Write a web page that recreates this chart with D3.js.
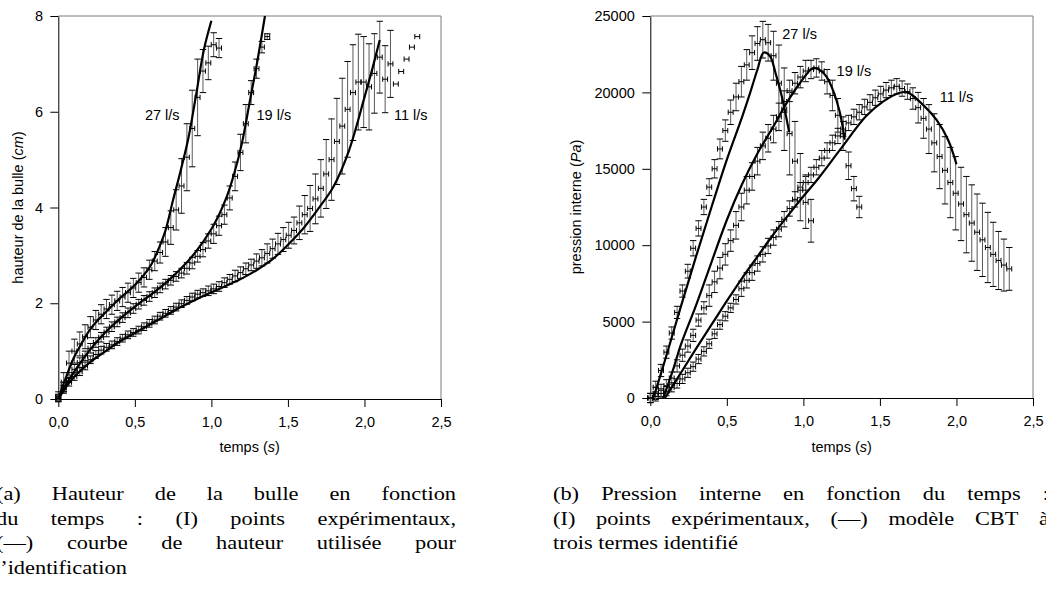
<!DOCTYPE html>
<html><head><meta charset="utf-8">
<script src="https://cdn.jsdelivr.net/npm/d3@7"></script>
<style>
body{margin:0;background:#fff}
svg{display:block}
.ax text{font-family:"Liberation Sans",Arial,sans-serif;font-size:14.5px;fill:#000}
.ttl{font-family:"Liberation Sans",Arial,sans-serif;font-size:14.5px;fill:#000}
.cap{font-family:"Liberation Serif","Times New Roman",serif;font-size:19.5px;fill:#000}
</style></head>
<body>
<svg id="c" width="1046" height="590"></svg>
<script>
// ---------- données ----------
const temps = [0,0.035,0.07,0.105,0.14,0.175,0.21,0.245,0.28,0.315,0.35,0.385,0.42,0.455,0.49,0.525,0.56,0.595,0.63,0.665,0.7,0.735,0.77,0.805,0.84,0.875,0.91,0.945,0.98,1.015,1.05,1.085,1.12,1.155,1.19,1.225,1.26,1.295,1.33,1.365,1.4,1.435,1.47,1.505,1.54,1.575,1.61,1.645,1.68,1.715,1.75,1.785,1.82,1.855,1.89,1.925,1.96,1.995,2.03,2.065,2.1,2.135,2.17,2.205,2.24,2.275,2.31,2.345];
const erreurTemps = 0.016;
const debits = ["27 l/s","19 l/s","11 l/s"];

const hauteur27 = [0.05,0.35,0.75,1.0,1.15,1.3,1.5,1.65,1.77,1.88,1.97,2.05,2.13,2.22,2.32,2.43,2.54,2.7,2.88,3.06,3.28,3.58,3.95,4.45,5.05,5.65,6.3,6.85,7.02,7.4,7.33];
const erreurHauteur27 = [0.1,0.2,0.25,0.25,0.25,0.25,0.22,0.2,0.2,0.2,0.2,0.2,0.2,0.2,0.2,0.2,0.2,0.2,0.2,0.22,0.3,0.35,0.42,0.57,0.7,0.8,0.8,0.45,0.35,0.25,0.2];
const hauteur19 = [0.02,0.25,0.45,0.62,0.76,0.9,1.06,1.18,1.29,1.4,1.51,1.61,1.7,1.8,1.89,1.98,2.06,2.14,2.22,2.32,2.4,2.48,2.56,2.63,2.73,2.84,2.98,3.12,3.3,3.45,3.62,3.85,4.2,4.65,5.15,5.75,6.4,6.9,7.35,7.57];
const erreurHauteur19 = [0.06,0.1,0.1,0.1,0.1,0.1,0.1,0.1,0.1,0.1,0.1,0.1,0.1,0.1,0.1,0.1,0.1,0.1,0.1,0.1,0.1,0.1,0.1,0.1,0.12,0.12,0.12,0.15,0.15,0.2,0.2,0.2,0.25,0.3,0.38,0.4,0.25,0.2,0.12,0.06];
const hauteur11 = [0.02,0.2,0.35,0.47,0.57,0.69,0.82,0.93,1.02,1.08,1.13,1.2,1.27,1.34,1.39,1.44,1.51,1.58,1.65,1.73,1.79,1.85,1.92,1.99,2.06,2.13,2.19,2.22,2.26,2.3,2.35,2.43,2.5,2.57,2.64,2.72,2.8,2.88,2.95,3.04,3.14,3.24,3.33,3.42,3.52,3.68,3.85,3.98,4.18,4.4,4.7,5.0,5.38,5.7,6.05,6.4,6.62,6.62,6.52,6.8,7.14,6.68,7.0,6.58,6.84,7.1,7.35,7.57];
const erreurHauteur11 = [0.08,0.08,0.08,0.08,0.08,0.08,0.08,0.08,0.08,0.08,0.08,0.08,0.08,0.08,0.08,0.08,0.08,0.08,0.08,0.08,0.08,0.08,0.08,0.08,0.08,0.08,0.08,0.08,0.1,0.1,0.1,0.1,0.1,0.12,0.12,0.12,0.12,0.15,0.17,0.2,0.2,0.22,0.25,0.27,0.28,0.35,0.4,0.48,0.52,0.6,0.72,0.85,0.9,1.0,1.0,1.0,1.0,0.95,0.9,0.83,0.75,0.7,0.7,0,0,0,0,0];

const pression27 = [0,700,1800,3000,4250,5600,7000,8300,9800,11100,12500,13800,15000,16300,17500,18700,19700,20700,21800,22600,23200,23450,23250,22400,20600,18900,17300,15500,13800,12800,11600];
const erreurPression27 = [300,400,400,400,400,400,400,450,500,500,500,550,600,650,700,800,900,1000,1000,1100,1100,1200,1200,1600,2500,2700,2700,2600,2200,1700,1400];
const pression19 = [0,300,500,800,1300,2100,2800,3400,4100,5100,5900,6700,7600,8500,9400,10300,11300,12500,13600,14500,15500,16500,17000,17600,18400,19400,20100,20600,21000,21400,21500,21600,21400,20700,19800,18500,17300,15200,13700,12500];
const erreurPression19 = [300,400,400,400,400,400,400,400,400,400,400,700,700,700,700,700,900,900,900,900,900,900,900,900,900,700,700,700,700,700,600,600,600,800,1000,1100,1100,900,800,700];
const pression11 = [0,100,300,450,700,950,1250,1650,2050,2550,3050,3550,4200,4800,5350,5900,6450,7150,7700,8200,8800,9400,9950,10500,11050,11700,12400,13000,13600,14100,14600,15100,15700,16200,16700,17150,17600,18000,18400,18700,19050,19350,19650,19900,20150,20300,20400,20250,20050,19600,19000,18300,17600,16700,15800,14900,14100,13400,12700,12000,11450,10850,10350,9850,9400,9000,8700,8450];
const erreurPression11 = [300,300,300,300,300,300,300,300,300,300,300,300,300,300,300,300,300,500,500,500,500,500,500,500,500,500,500,500,500,500,500,500,500,500,500,500,500,500,500,500,500,500,500,500,500,500,500,500,500,700,1000,1300,1600,1900,2100,2200,2300,2400,2400,2500,2500,2500,2400,2300,2100,1900,1700,1400];

// courbes modèles
const modeleTempsH27 = [0,0.05,0.1,0.15,0.2,0.25,0.3,0.4,0.5,0.6,0.65,0.7,0.75,0.8,0.85,0.9,0.95,1.0];
const modeleHauteur27 = [0,0.45,0.85,1.15,1.42,1.62,1.78,2.1,2.38,2.77,3.1,3.52,4.16,4.78,5.45,6.35,7.28,7.9];
const modeleTempsH19 = [0,0.05,0.1,0.2,0.3,0.4,0.5,0.6,0.7,0.8,0.9,1.0,1.05,1.1,1.15,1.2,1.25,1.3,1.35];
const modeleHauteur19 = [0,0.3,0.55,1.0,1.37,1.67,1.93,2.17,2.42,2.72,3.08,3.55,3.85,4.22,4.72,5.35,6.2,7.05,8.0];
const modeleTempsH11 = [0,0.05,0.1,0.2,0.3,0.4,0.5,0.6,0.7,0.8,0.9,1.0,1.1,1.2,1.3,1.4,1.5,1.6,1.7,1.8,1.9,2.0,2.05,2.1];
const modeleHauteur11 = [0,0.25,0.45,0.75,0.98,1.2,1.38,1.56,1.74,1.92,2.08,2.23,2.37,2.52,2.7,2.92,3.22,3.56,3.98,4.45,5.2,6.3,6.88,7.5];

const modeleTempsP27 = [0.02,0.1,0.2,0.3,0.4,0.5,0.6,0.65,0.7,0.74,0.78,0.82,0.86,0.907];
const modelePression27 = [0,2600,6000,9300,12500,15600,18400,19900,21500,22600,22400,21200,19700,17400];
const modeleTempsP19 = [0.085,0.15,0.2,0.3,0.4,0.5,0.6,0.7,0.8,0.89,0.977,1.064,1.11,1.153,1.195,1.238,1.27];
const modelePression19 = [0,1900,3500,6100,8900,11650,14000,16000,17700,19300,20600,21600,21450,21000,20100,18700,16900];
const modeleTempsP11 = [0.096,0.2,0.3,0.4,0.5,0.6,0.7,0.8,0.9,1.0,1.1,1.24,1.41,1.52,1.63,1.68,1.78,1.87,1.945,2.0];
const modelePression11 = [0,1650,3250,4800,6350,7850,9250,10650,11950,13200,14400,16250,18450,19400,19980,20000,19200,18200,16900,15300];

const ticksTemps = [0,0.5,1,1.5,2,2.5];
const ticksHauteur = [0,2,4,6,8];
const ticksPression = [0,5000,10000,15000,20000,25000];

const legendeA = ["(a) Hauteur de la bulle en fonction","du temps : (I) points expérimentaux,","(—) courbe de hauteur utilisée pour","l’identification"];
const legendeB = ["(b) Pression interne en fonction du temps :","(I) points expérimentaux, (—) modèle CBT à","trois termes identifié"];

// ---------- dessin ----------
const svg = d3.select("#c");
const fmtT = d => d3.format(".1f")(d).replace(".", ",");

function panneau(cfg){
  const g = svg.append("g");
  const x = d3.scaleLinear().domain([0,2.5]).range([cfg.x0,cfg.x1]);
  const y = d3.scaleLinear().domain([0,cfg.ymax]).range([cfg.yb,cfg.yt]);
  // cadre
  g.append("line").attr("x1",cfg.x0).attr("x2",cfg.x1).attr("y1",cfg.yt).attr("y2",cfg.yt).attr("stroke","#7a7a7a");
  g.append("line").attr("x1",cfg.x1).attr("x2",cfg.x1).attr("y1",cfg.yt).attr("y2",cfg.yb).attr("stroke","#7a7a7a");
  // axes
  const ab = g.append("g").attr("class","ax").attr("transform",`translate(0,${cfg.yb})`)
    .call(d3.axisBottom(x).tickValues(ticksTemps).tickFormat(fmtT).tickSize(8).tickSizeOuter(0).tickPadding(10));
  const al = g.append("g").attr("class","ax").attr("transform",`translate(${cfg.x0},0)`)
    .call(d3.axisLeft(y).tickValues(cfg.ticks).tickFormat(d3.format("d")).tickSize(8).tickSizeOuter(0).tickPadding(cfg.padY));
  g.selectAll(".ax path, .ax line").attr("stroke","#000");
  // titres
  const tx = g.append("text").attr("class","ttl").attr("x",(cfg.x0+cfg.x1)/2).attr("y",452).attr("text-anchor","middle");
  tx.append("tspan").text("temps (");
  tx.append("tspan").attr("font-style","italic").text("s");
  tx.append("tspan").text(")");
  const ty = g.append("text").attr("class","ttl").attr("text-anchor","middle")
    .attr("transform",`translate(${cfg.titreX},${(cfg.yt+cfg.yb)/2}) rotate(-90)`);
  ty.append("tspan").text(cfg.titre + " (");
  ty.append("tspan").attr("font-style","italic").text(cfg.unite);
  ty.append("tspan").text(")");

  // barres d'erreur
  const hx = 3.2, hy = 2.6;
  cfg.series.forEach(s => {
    const pts = s.valeurs.map((v,i)=>({t:temps[i], v:v, e:s.erreurs[i]}));
    const sg = g.append("g");
    const pe = pts.filter(d=>d.e>0);
    sg.selectAll(".st").data(pe).join("line").attr("class","st")
      .attr("x1",d=>x(d.t)).attr("x2",d=>x(d.t)).attr("y1",d=>y(d.v-d.e)).attr("y2",d=>y(d.v+d.e))
      .attr("stroke","#5a5a5a").attr("stroke-width",1);
    ["-","+"].forEach(sgn=>{
      sg.selectAll(".cp"+(sgn==="+"?"h":"b")).data(pe).join("line").attr("class","cp"+(sgn==="+"?"h":"b"))
        .attr("x1",d=>x(d.t)-hx).attr("x2",d=>x(d.t)+hx)
        .attr("y1",d=>y(sgn==="+"?d.v+d.e:d.v-d.e)).attr("y2",d=>y(sgn==="+"?d.v+d.e:d.v-d.e))
        .attr("stroke","#000").attr("stroke-width",1);
    });
    sg.selectAll(".hz").data(pts).join("line").attr("class","hz")
      .attr("x1",d=>x(d.t-erreurTemps)).attr("x2",d=>x(d.t+erreurTemps)).attr("y1",d=>y(d.v)).attr("y2",d=>y(d.v))
      .attr("stroke","#000").attr("stroke-width",1);
    [-1,1].forEach(k=>{
      sg.selectAll(".hc"+(k>0?"d":"g")).data(pts).join("line").attr("class","hc"+(k>0?"d":"g"))
        .attr("x1",d=>x(d.t+k*erreurTemps)).attr("x2",d=>x(d.t+k*erreurTemps))
        .attr("y1",d=>y(d.v)-hy).attr("y2",d=>y(d.v)+hy)
        .attr("stroke","#000").attr("stroke-width",1);
    });
  });
  // modèles
  const ln = d3.line().x(d=>x(d[0])).y(d=>y(d[1])).curve(d3.curveCatmullRom.alpha(0.5));
  cfg.modeles.forEach(m=>{
    g.append("path").attr("d", ln(d3.zip(m[0],m[1]))).attr("fill","none").attr("stroke","#000").attr("stroke-width",2.2);
  });
  // étiquettes
  cfg.etiquettes.forEach((e,i)=>{
    g.append("text").attr("class","ttl").attr("x",x(e[0])).attr("y",y(e[1])).text(debits[i]);
  });
}

panneau({x0:58.3,x1:441,yb:399,yt:16,ymax:8,ticks:ticksHauteur,padY:7.3,titreX:23,
  titre:"hauteur de la bulle",unite:"cm",
  series:[{valeurs:hauteur27,erreurs:erreurHauteur27},{valeurs:hauteur19,erreurs:erreurHauteur19},{valeurs:hauteur11,erreurs:erreurHauteur11}],
  modeles:[[modeleTempsH27,modeleHauteur27],[modeleTempsH19,modeleHauteur19],[modeleTempsH11,modeleHauteur11]],
  etiquettes:[[0.566,5.83],[1.295,5.83],[2.193,5.83]]});

panneau({x0:650.3,x1:1033,yb:398,yt:16,ymax:25000,ticks:ticksPression,padY:7.5,titreX:581,
  titre:"pression interne",unite:"Pa",
  series:[{valeurs:pression27,erreurs:erreurPression27},{valeurs:pression19,erreurs:erreurPression19},{valeurs:pression11,erreurs:erreurPression11}],
  modeles:[[modeleTempsP27,modelePression27],[modeleTempsP19,modelePression19],[modeleTempsP11,modelePression11]],
  etiquettes:[[0.862,23475],[1.217,21073],[1.891,19352]]});

// ---------- légendes ----------
function mesure(t){ const n = svg.append("text").attr("class","cap").text(t); const w = n.node().getComputedTextLength(); n.remove(); return w; }
const K = 185 / mesure("trois termes identifié");
const espace = mesure("a a") - mesure("aa");
function ligne(texte, x0, x1, yb, justifie){
  const mots = texte.split(" ");
  const w = mots.map(m => mesure(m)*K);
  const total = d3.sum(w);
  const gap = justifie ? (x1-x0-total)/(mots.length-1) : espace*K;
  let x = x0;
  mots.forEach((m,i)=>{
    svg.append("text").attr("class","cap").attr("x",x).attr("y",yb)
      .attr("textLength",w[i]).attr("lengthAdjust","spacingAndGlyphs").text(m);
    x += w[i] + gap;
  });
}
const basesY = [500,524.5,549,573.5];
legendeA.forEach((l,i)=> ligne(l, i===3 ? -6 : -4, 456, basesY[i], i<3));
legendeB.forEach((l,i)=> ligne(l, 553, 1049, basesY[i], i<2));
</script>
</body></html>
